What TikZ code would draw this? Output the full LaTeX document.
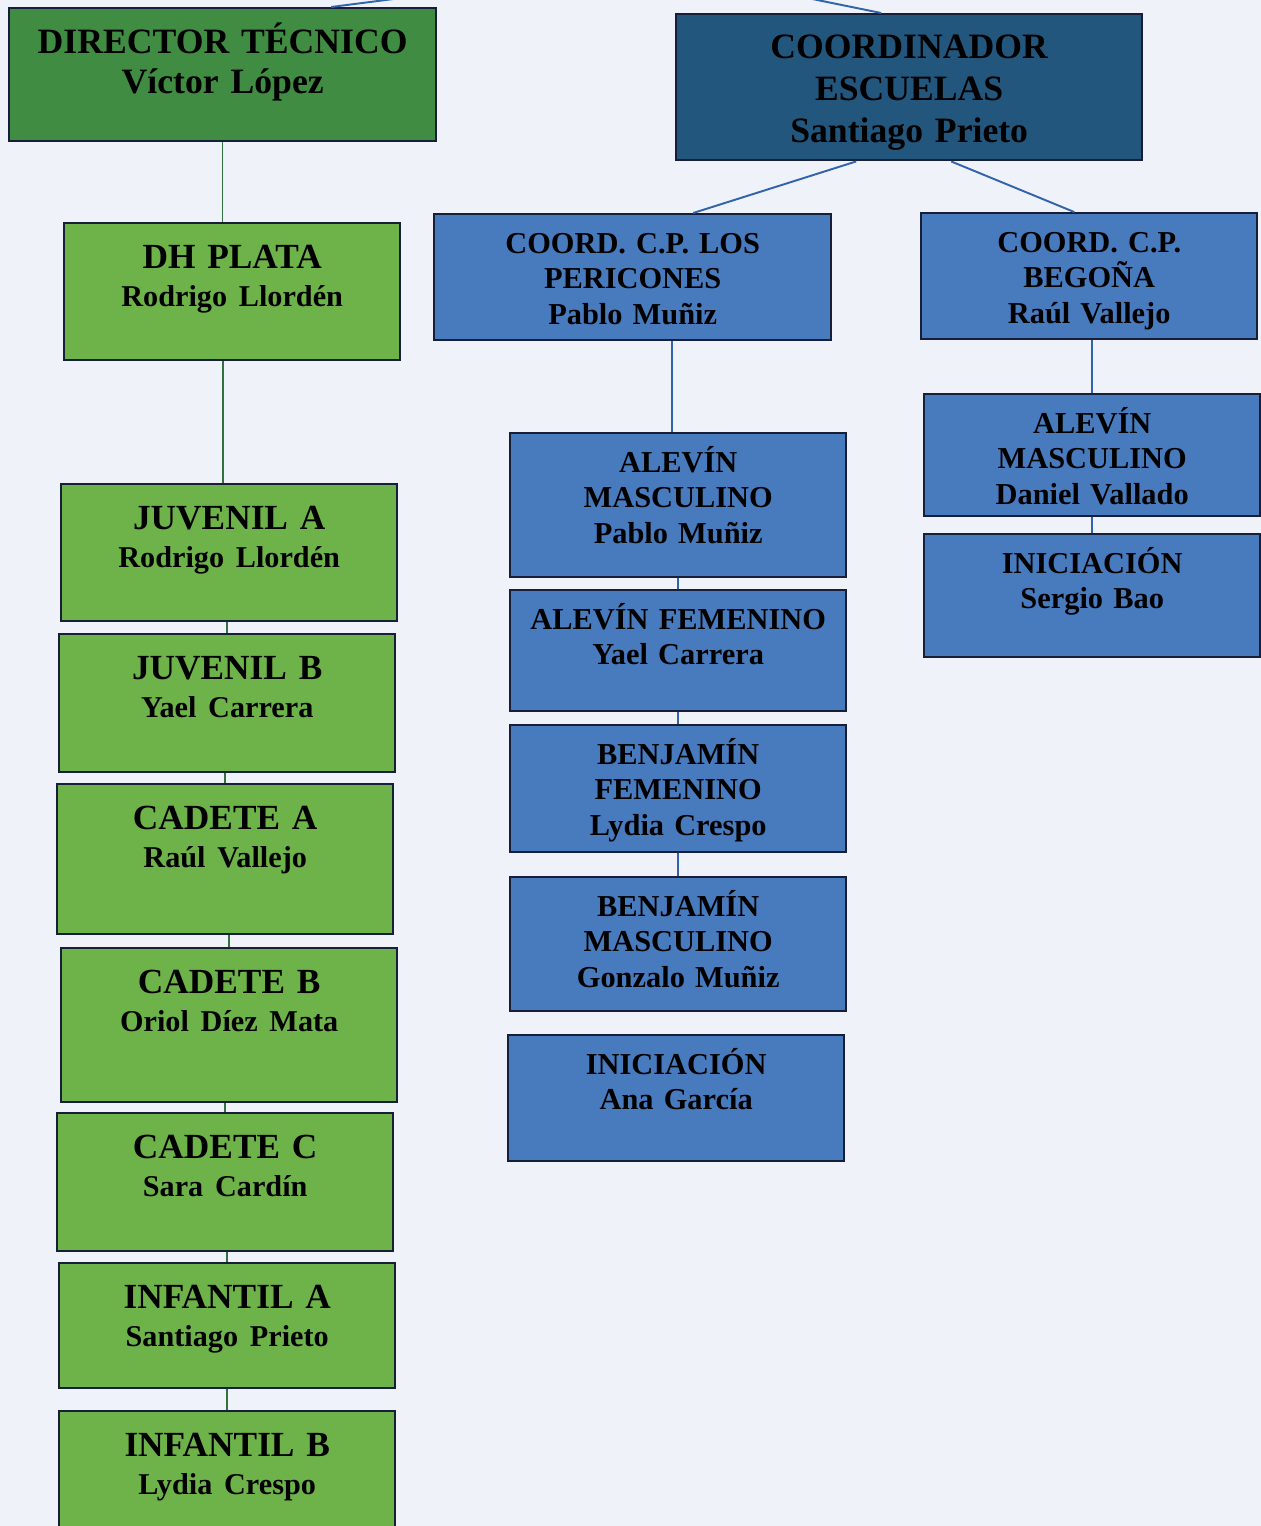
\documentclass[tikz,border=0pt]{standalone}
\usepackage{fontspec}
\setmainfont{Liberation Serif}
\usepackage{tikz}

\definecolor{fondo}{RGB}{239,242,249}
\definecolor{borde}{RGB}{22,30,56}
\definecolor{verdeosc}{RGB}{64,140,66}
\definecolor{verdecl}{RGB}{110,178,74}
\definecolor{azulosc}{RGB}{34,86,124}
\definecolor{azulcl}{RGB}{72,122,190}
\definecolor{lineaverde}{RGB}{52,112,62}
\definecolor{lineaazul}{RGB}{50,100,172}

\newcommand{\persona}[1]{{\fontsize{17.2}{21.6}\selectfont #1}}

\begin{document}
\begin{tikzpicture}[x=0.02cm, y=-0.02cm,
    caja/.style = {draw=borde, line width=1.4pt, anchor=north west, inner sep=0pt, align=center},
    jefe/.style = {caja, text height=0.9cm, font=\bfseries\fontsize{20.3}{22.8}\selectfont},
    equipo/.style = {caja, fill=verdecl, text width=6.72cm, text height=0.9cm, font=\bfseries\fontsize{20.1}{21.6}\selectfont},
    escuela/.style = {caja, fill=azulcl, text width=6.72cm, text height=0.78cm, font=\bfseries\fontsize{17.3}{20.2}\selectfont},
    rama/.style = {draw=lineaverde, line width=0.85pt},
    ramaz/.style = {draw=lineaazul, line width=1.1pt}]

\useasboundingbox (0,0) rectangle (1261,1526);
\fill[fondo] (0,0) rectangle (1261,1526);

% cabeza
\node[jefe, fill=verdeosc, text width=8.54cm, text depth=1.76cm] (director) at (8,7) {DIRECTOR TÉCNICO\\Víctor López};
\node[jefe, fill=azulosc, text width=9.32cm, text height=0.88cm, text depth=2.04cm,
      font=\bfseries\fontsize{20.3}{23.9}\selectfont] (coordinador) at (675,13) {COORDINADOR\\ESCUELAS\\Santiago Prieto};
\coordinate (club) at (650,-34);

% equipos
\node[equipo, text depth=1.84cm] (dhplata) at (63,222) {DH PLATA\\\persona{Rodrigo Llordén}};
\node[equipo, text depth=1.84cm] (juvA) at (60,483) {JUVENIL A\\\persona{Rodrigo Llordén}};
\node[equipo, text depth=1.86cm] (juvB) at (58,633) {JUVENIL B\\\persona{Yael Carrera}};
\node[equipo, text depth=2.10cm] (cadA) at (56,783) {CADETE A\\\persona{Raúl Vallejo}};
\node[equipo, text depth=2.18cm] (cadB) at (60,947) {CADETE B\\\persona{Oriol Díez Mata}};
\node[equipo, text depth=1.86cm] (cadC) at (56,1112) {CADETE C\\\persona{Sara Cardín}};
\node[equipo, text depth=1.60cm] (infA) at (58,1262) {INFANTIL A\\\persona{Santiago Prieto}};
\node[equipo, text depth=1.90cm] (infB) at (58,1410) {INFANTIL B\\\persona{Lydia Crespo}};

% escuelas
\node[escuela, text width=7.94cm, text depth=1.74cm] (pericones) at (433,213) {COORD. C.P. LOS\\PERICONES\\Pablo Muñiz};
\node[escuela, text depth=1.74cm] (begona) at (920,212) {COORD. C.P.\\BEGOÑA\\Raúl Vallejo};
\node[escuela, text depth=2.10cm] (aleM) at (509,432) {ALEVÍN\\MASCULINO\\Pablo Muñiz};
\node[escuela, text depth=1.64cm] (aleF) at (509,589) {ALEVÍN FEMENINO\\Yael Carrera};
\node[escuela, text depth=1.76cm] (benF) at (509,724) {BENJAMÍN\\FEMENINO\\Lydia Crespo};
\node[escuela, text depth=1.90cm] (benM) at (509,876) {BENJAMÍN\\MASCULINO\\Gonzalo Muñiz};
\node[escuela, text depth=1.74cm] (iniA) at (507,1034) {INICIACIÓN\\Ana García};
\node[escuela, text depth=1.66cm] (aleMb) at (923,393) {ALEVÍN\\MASCULINO\\Daniel Vallado};
\node[escuela, text depth=1.68cm] (iniS) at (923,533) {INICIACIÓN\\Sergio Bao};

% lineas
\draw[ramaz] (club) -- ([xshift=2.17cm]director.north);
\draw[ramaz] (club) -- ([xshift=-0.56cm]coordinador.north);
\draw[ramaz] ([xshift=-1.06cm]coordinador.south) -- ([xshift=1.21cm]pericones.north);
\draw[ramaz] ([xshift=0.84cm]coordinador.south) -- ([xshift=-0.3cm]begona.north);

\draw[rama] (director.south) -- (director.south |- dhplata.north);
\draw[rama] ([xshift=-0.12cm]juvA.north) -- ([xshift=-0.12cm]juvA.north |- dhplata.south);
\foreach \a/\b in {juvA/juvB, juvB/cadA, cadA/cadB, cadB/cadC, cadC/infA, infA/infB}
  \draw[rama] (\b.north) -- (\b.north |- \a.south);

\draw[ramaz] ([xshift=-0.12cm]aleM.north) -- ([xshift=-0.12cm]aleM.north |- pericones.south);
\foreach \a/\b in {aleM/aleF, aleF/benF, benF/benM, begona/aleMb, aleMb/iniS}
  \draw[ramaz] (\b.north) -- (\b.north |- \a.south);
\end{tikzpicture}
\end{document}
